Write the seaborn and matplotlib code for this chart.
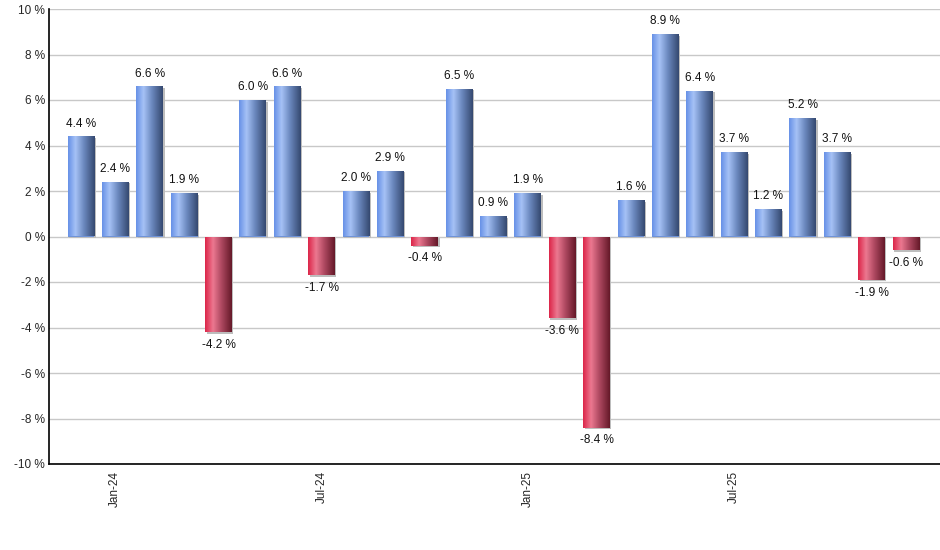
import numpy as np
import pandas as pd
import matplotlib
matplotlib.use("Agg")
import matplotlib.pyplot as plt
import seaborn as sns
from matplotlib.colors import LinearSegmentedColormap
from matplotlib.patches import Rectangle

# monthly returns, Dec-23 .. Dec-25
months = ["Dec-23", "Jan-24", "Feb-24", "Mar-24", "Apr-24", "May-24", "Jun-24",
          "Jul-24", "Aug-24", "Sep-24", "Oct-24", "Nov-24", "Dec-24",
          "Jan-25", "Feb-25", "Mar-25", "Apr-25", "May-25", "Jun-25",
          "Jul-25", "Aug-25", "Sep-25", "Oct-25", "Nov-25", "Dec-25"]
returns = [4.4, 2.4, 6.6, 1.9, -4.2, 6.0, 6.6, -1.7, 2.0, 2.9, -0.4, 6.5, 0.9,
           1.9, -3.6, -8.4, 1.6, 8.9, 6.4, 3.7, 1.2, 5.2, 3.7, -1.9, -0.6]
tick_months = ["Jan-24", "Jul-24", "Jan-25", "Jul-25"]
y_ticks = [-10, -8, -6, -4, -2, 0, 2, 4, 6, 8, 10]

df = pd.DataFrame({"month": months, "ret": returns})

sns.set_style("white")
plt.rcParams["font.family"] = ["Liberation Sans", "DejaVu Sans"]

blue_cmap = LinearSegmentedColormap.from_list(
    "blue_bar", [(0, "#6690e6"), (0.28, "#a6c2f6"), (0.6, "#6a87bd"), (1, "#34486f")])
red_cmap = LinearSegmentedColormap.from_list(
    "red_bar", [(0, "#dc2448"), (0.3, "#ec7890"), (0.6, "#b04a62"), (1, "#641828")])

fig = plt.figure(figsize=(9.4, 5.5), dpi=100)
ax = fig.add_axes([49 / 940, 1 - 464 / 550, 891 / 940, 455 / 550])

sns.barplot(data=df, x="month", y="ret", ax=ax, color="#6f93d8",
            width=0.78, saturation=1, order=months, linewidth=0)

ax.set_xlim(-0.93, 24.99)
ax.set_ylim(-10, 10)

grad = np.linspace(0, 1, 256).reshape(1, -1)
dx = 1.5 / 34.4
dy = 20 * 1.5 / 455
for i, p in enumerate(ax.patches):
    x0, w = p.get_x(), p.get_width()
    y0, h = p.get_y(), p.get_height()
    val = returns[i]
    lo, hi = min(y0, y0 + h), max(y0, y0 + h)
    # shadow
    ax.add_patch(Rectangle((x0 + dx, lo - dy), w, hi - lo, color="#bdbdbd",
                           zorder=1.5, lw=0))
    p.set_zorder(2)
    p.set_linewidth(0)
    cmap = blue_cmap if val >= 0 else red_cmap
    im = ax.imshow(grad, cmap=cmap, aspect="auto",
                   extent=[x0, x0 + w, lo, hi], zorder=3, interpolation="bilinear")
    im.set_clip_path(p)
    if val >= 0:
        ax.text(x0 + w / 2, hi + 0.3, f"{val:.1f} %", ha="center", va="bottom",
                fontsize=8.5, color="#111111")
    else:
        ax.text(x0 + w / 2, lo - 0.3, f"{val:.1f} %", ha="center", va="top",
                fontsize=8.5, color="#111111")

ax.set_xlim(-0.93, 24.99)
ax.set_ylim(-10, 10)

ax.set_yticks(y_ticks)
ax.set_yticklabels([f"{t} %" for t in y_ticks], fontsize=8.5)
ax.yaxis.grid(True, color="#c8c8c8", lw=1)
ax.set_axisbelow(True)

tick_pos = [months.index(m) for m in tick_months]
ax.set_xticks(tick_pos)
ax.set_xticklabels(tick_months, rotation=90, fontsize=8.5)
ax.tick_params(axis="x", length=4, width=1, color="black", direction="out", pad=1)
ax.tick_params(axis="y", length=0, pad=3)

ax.set_xlabel("")
ax.set_ylabel("")
for side in ["top", "right"]:
    ax.spines[side].set_visible(False)
for side in ["left", "bottom"]:
    ax.spines[side].set_color("black")
    ax.spines[side].set_linewidth(1.2)

fig.savefig("out.png", dpi=100)
